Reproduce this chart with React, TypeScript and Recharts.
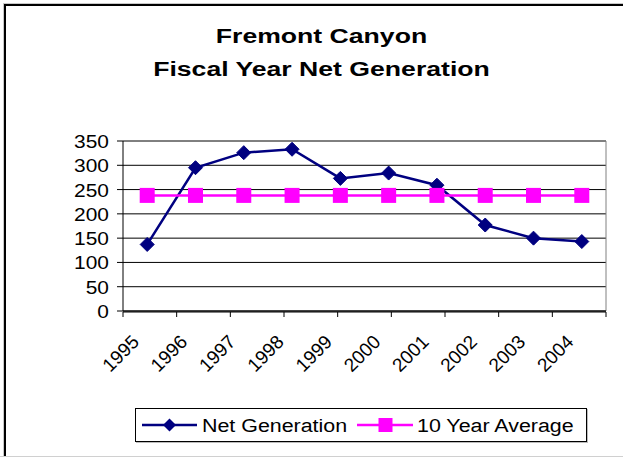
import React from 'react';
import { LineChart, Line, XAxis, YAxis, CartesianGrid } from 'recharts';

const years = ['1995', '1996', '1997', '1998', '1999', '2000', '2001', '2002', '2003', '2004'];
const netGeneration = [137, 295, 326, 333, 273, 284, 259, 177, 150, 143];
const tenYearAverage = [238, 238, 238, 238, 238, 238, 238, 238, 238, 238];
const yTicks = [0, 50, 100, 150, 200, 250, 300, 350];
const categoryBoundaries = [0, 1, 2, 3, 4, 5, 6, 7, 8, 9, 10];
const titleLines = ['Fremont Canyon', 'Fiscal Year Net Generation'];
const seriesNames = ['Net Generation', '10 Year Average'];

const NAVY = '#000080';
const MAGENTA = '#FF00FF';
const FONT = '"Liberation Sans", Arial, sans-serif';

const data = years.map((year, i) => ({ year, net: netGeneration[i], avg: tenYearAverage[i] }));

const Diamond = (props: any) => {
  const { cx, cy, index } = props;
  if (cx == null || cy == null) return <g key={index} />;
  const r = 7;
  return (
    <polygon
      key={index}
      points={`${cx},${cy - r} ${cx + r},${cy} ${cx},${cy + r} ${cx - r},${cy}`}
      fill={NAVY}
      stroke={NAVY}
    />
  );
};

const Square = (props: any) => {
  const { cx, cy, index } = props;
  if (cx == null || cy == null) return <g key={index} />;
  const h = 7.5;
  return <rect key={index} x={cx - h} y={cy - h} width={2 * h} height={2 * h} fill={MAGENTA} />;
};

const YTick = (props: any) => {
  const { x, y, payload } = props;
  return (
    <text
      transform={`translate(${x},${y + 7}) scale(1.1,1)`}
      textAnchor="end"
      fontFamily={FONT}
      fontSize={19}
      fill="#000"
    >
      {payload.value}
    </text>
  );
};

const XTick = (props: any) => {
  const { x, payload } = props;
  return (
    <text
      transform={`translate(${x - 7},343) rotate(-45)`}
      textAnchor="end"
      fontFamily={FONT}
      fontSize={19}
      fill="#000"
    >
      {payload.value}
    </text>
  );
};

const EmptyTick = () => <g />;

const LegendBox = () => (
  <div
    style={{
      position: 'absolute',
      left: 135,
      top: 408,
      width: 450,
      height: 32,
      border: '1px solid #000',
      background: '#fff',
      boxShadow: '1px 1px 0 #bbb',
    }}
  >
    <svg width={450} height={32} style={{ position: 'absolute', left: 0, top: 0 }}>
      <line x1={6} y1={16} x2={61} y2={16} stroke={NAVY} strokeWidth={2.5} />
      <polygon points="33.5,9.5 40,16 33.5,22.5 27,16" fill={NAVY} />
      <text x={66} y={23} fontFamily={FONT} fontSize={18} transform="translate(66,0) scale(1.19,1) translate(-66,0)">
        {seriesNames[0]}
      </text>
      <line x1={221} y1={16} x2={277} y2={16} stroke={MAGENTA} strokeWidth={2.5} />
      <rect x={242.5} y={9} width={14} height={14} fill={MAGENTA} />
      <text x={281} y={23} fontFamily={FONT} fontSize={18} transform="translate(281,0) scale(1.19,1) translate(-281,0)">
        {seriesNames[1]}
      </text>
    </svg>
  </div>
);

export default function App() {
  return (
    <div style={{ position: 'absolute', left: 0, top: 0, width: 623, height: 458, background: '#fff', overflow: 'hidden' }}>
      <div style={{ position: 'absolute', left: 3, top: 3, width: 700, height: 452, borderLeft: '1px solid #c8c8c8', borderTop: '1px solid #c8c8c8' }} />
      <div style={{ position: 'absolute', left: 4, top: 4, width: 700, height: 451, borderLeft: '2px solid #000', borderTop: '2px solid #000' }} />
      <div style={{ position: 'absolute', left: 0, top: 456, width: 623, height: 1, background: '#d0d0d0' }} />
      {titleLines.map((t, i) => (
        <div
          key={t}
          style={{
            position: 'absolute',
            left: 10,
            width: 623,
            top: 26 + i * 33,
            lineHeight: '20px',
            textAlign: 'center',
            fontFamily: FONT,
            fontWeight: 'bold',
            fontSize: 20,
            transform: 'scaleX(1.33)',
            transformOrigin: '311.5px 0',
            color: '#000',
          }}
        >
          {t}
        </div>
      ))}
      <div style={{ position: 'absolute', left: 0, top: 0 }}>
        <LineChart width={623} height={458} data={data} margin={{ top: 140, right: 16, left: 0, bottom: 145 }}>
          <CartesianGrid vertical={false} stroke="#000" strokeWidth={1} />
          <XAxis xAxisId="t" orientation="top" dataKey="year" height={1} tick={false} tickLine={false} axisLine={{ stroke: '#808080' }} />
          <YAxis yAxisId="r" orientation="right" width={1} domain={[0, 350]} tick={false} tickLine={false} axisLine={{ stroke: '#808080' }} />
          <XAxis
            xAxisId="b"
            type="number"
            domain={[0, 10]}
            ticks={categoryBoundaries}
            height={1}
            axisLine={{ stroke: '#000' }}
            tickLine={{ stroke: '#000' }}
            tickSize={5}
            tick={EmptyTick}
            interval={0}
          />
          <XAxis
            dataKey="year"
            type="category"
            height={1}
            padding={{ left: 24.2, right: 24.2 }}
            axisLine={{ stroke: '#000' }}
            tickLine={false}
            tickSize={0}
            tickMargin={0}
            interval={0}
            tick={XTick}
          />
          <YAxis
            width={123}
            domain={[0, 350]}
            ticks={yTicks}
            interval={0}
            tickSize={6}
            tickMargin={8}
            axisLine={{ stroke: '#000' }}
            tickLine={{ stroke: '#000' }}
            tick={YTick}
          />
          <Line
            dataKey="net"
            name={seriesNames[0]}
            stroke={NAVY}
            strokeWidth={2.5}
            dot={Diamond}
            activeDot={false}
            isAnimationActive={false}
          />
          <Line
            dataKey="avg"
            name={seriesNames[1]}
            stroke={MAGENTA}
            strokeWidth={2.5}
            dot={Square}
            activeDot={false}
            isAnimationActive={false}
          />
        </LineChart>
      </div>
      <LegendBox />
    </div>
  );
}
